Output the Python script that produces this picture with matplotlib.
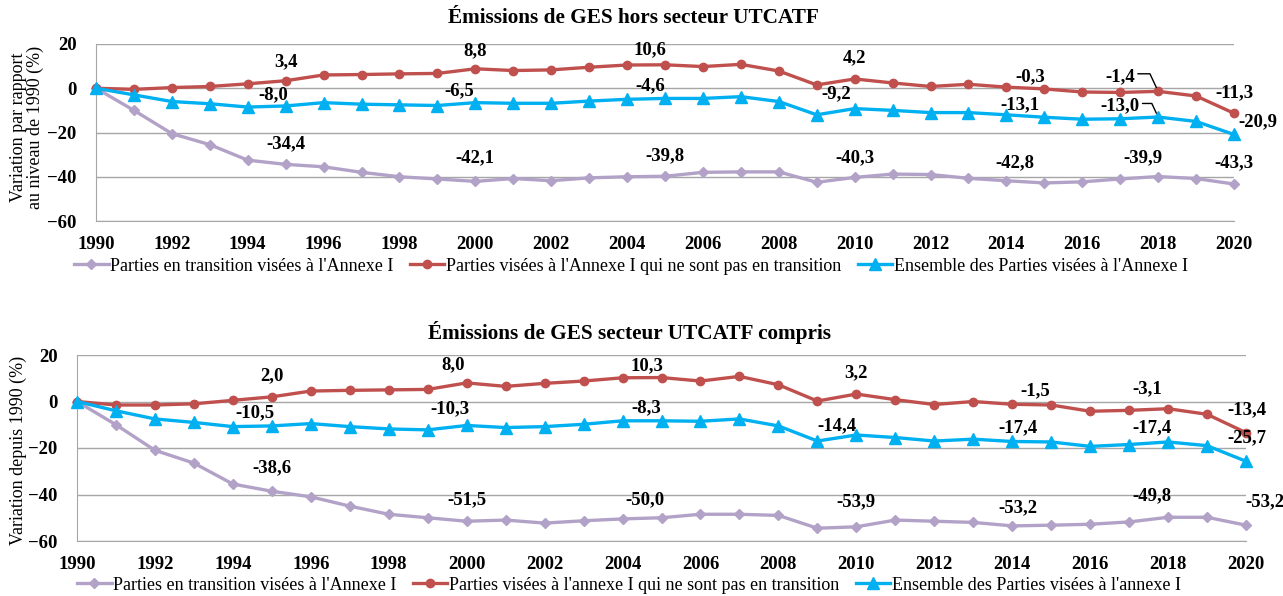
import matplotlib
matplotlib.use("Agg")
import matplotlib.pyplot as plt

# ---------------------------------------------------------------------------
# DATA
# ---------------------------------------------------------------------------
years = list(range(1990, 2021))

# Emissions hors UTCATF
top_transition = [0, -10, -20.5, -25.5, -32.5, -34.4, -35.5, -38, -40, -41,
                  -42.1, -40.8, -41.8, -40.5, -40, -39.8, -38, -37.8, -37.8, -42.5,
                  -40.3, -38.8, -39, -40.7, -41.8, -42.8, -42.3, -41, -39.9, -40.8,
                  -43.3]
top_non_transition = [0, -0.5, 0.3, 0.8, 2, 3.4, 6, 6.2, 6.5, 6.7,
                      8.8, 8, 8.3, 9.5, 10.5, 10.6, 9.8, 10.8, 7.8, 1.5,
                      4.2, 2.4, 0.8, 1.8, 0.5, -0.3, -1.7, -1.9, -1.4, -3.5,
                      -11.3]
top_all = [0, -3, -6, -7, -8.5, -8.0, -6.5, -7.2, -7.5, -7.8,
           -6.5, -6.8, -6.8, -5.8, -5, -4.6, -4.6, -3.8, -6, -12,
           -9.2, -10, -11, -11, -12, -13.1, -14, -13.8, -13.0, -15,
           -20.9]

# Emissions UTCATF compris
bot_transition = [0, -10, -21, -26.5, -35.5, -38.6, -41, -45, -48.5, -50,
                  -51.5, -51, -52.3, -51.3, -50.5, -50.0, -48.5, -48.5, -49, -54.5,
                  -53.9, -51, -51.5, -52, -53.5, -53.2, -52.8, -51.8, -49.8, -49.8,
                  -53.2]
bot_non_transition = [0, -1.5, -1.5, -1, 0.5, 2.0, 4.5, 4.8, 5, 5.2,
                      8.0, 6.5, 7.8, 8.8, 10.2, 10.3, 8.8, 10.8, 7.2, 0.2,
                      3.2, 0.8, -1.3, 0, -1.2, -1.5, -4.2, -3.8, -3.1, -5.5,
                      -13.4]
bot_all = [0, -4, -7.5, -9, -10.8, -10.5, -9.5, -10.8, -11.8, -12.2,
           -10.3, -11.2, -10.8, -9.8, -8.3, -8.3, -8.5, -7.5, -10.5, -17,
           -14.4, -15.5, -17, -16.2, -17.2, -17.4, -19.3, -18.5, -17.4, -19,
           -25.7]

label_years = [1995, 2000, 2005, 2010, 2015, 2018, 2020]
leader_years = [2018]                        # top chart only
leader_series = ["non_transition", "all"]

top_names = ["Parties en transition visées à l'Annexe I",
             "Parties visées à l'Annexe I qui ne sont pas en transition",
             "Ensemble des Parties visées à l'Annexe I"]
bot_names = ["Parties en transition visées à l'Annexe I",
             "Parties visées à l'annexe I qui ne sont pas en transition",
             "Ensemble des Parties visées à l'annexe I"]

TOP_TITLE = "Émissions de GES hors secteur UTCATF"
BOT_TITLE = "Émissions de GES secteur UTCATF compris"
TOP_YLABEL = "Variation par rapport\nau niveau de 1990 (%)"
BOT_YLABEL = "Variation depuis 1990 (%)"

# label offsets (pixels, dx, dy) for each label year
top_offsets = {
    "transition": [(0, 21), (0, 24), (0, 21), (0, 20), (-29, 20), (-15, 19), (0, 21)],
    "non_transition": [(0, 19), (0, 18), (-15, 15), (0, 21), (-14, 12), (-38, 15), (0, 21)],
    "all": [(-12, 11), (-16, 12), (-15, 13), (-18, 15), (-24, 12), (-38, 11), (24, 13)],
}
bot_offsets = {
    "transition": [(0, 24), (0, 22), (-17, 18), (0, 25), (-33, 17), (-16, 22), (19, 23)],
    "non_transition": [(0, 21), (-14, 18), (-15, 12), (0, 21), (-16, 14), (-21, 20), (1, 23)],
    "all": [(-17, 13), (-17, 17), (-15, 13), (-19, 9), (-33, 14), (-16, 14), (1, 24)],
}

# ---------------------------------------------------------------------------
# STYLE
# ---------------------------------------------------------------------------
C_PURPLE = "#B3A2C7"
C_RED = "#C0504D"
C_BLUE = "#00B0F0"
GRID_COL = "#A6A6A6"
SERIF = "Liberation Serif"

plt.rcParams["font.family"] = [SERIF, "DejaVu Serif"]

W, H = 1283, 596
fig = plt.figure(figsize=(W / 100, H / 100), dpi=100)


def frac_axes(left, top, right, bottom):
    return fig.add_axes([left / W, 1 - bottom / H, (right - left) / W, (bottom - top) / H])


def fmt(v):
    return f"{v:.1f}".replace(".", ",")


def draw_panel(ax, series, offsets, leader=False):
    styles = {
        "transition": dict(color=C_PURPLE, marker="D", ms=5.5),
        "non_transition": dict(color=C_RED, marker="o", ms=6),
        "all": dict(color=C_BLUE, marker="^", ms=8.5),
    }
    lines = []
    for key, vals in series:
        st = styles[key]
        ln, = ax.plot(years, vals, color=st["color"], lw=2.4, marker=st["marker"],
                      ms=st["ms"], mec=st["color"], mfc=st["color"], zorder=3,
                      clip_on=False)
        lines.append(ln)
        for i, yr in enumerate(label_years):
            v = vals[years.index(yr)]
            dx, dy = offsets[key][i]
            kw = {}
            if leader and yr in leader_years and key in leader_series:
                kw["arrowprops"] = dict(arrowstyle="-", color="black", lw=1,
                                        shrinkA=0, shrinkB=3, relpos=(1, 0.65),
                                        connectionstyle="angle,angleA=0,angleB=115,rad=0")
            ax.annotate(fmt(v), xy=(yr, v), xytext=(dx, dy), textcoords="offset pixels",
                        ha="center", va="center", fontsize=13.5, fontweight="bold",
                        family=SERIF, zorder=5, **kw)

    ax.set_xlim(1990, 2020)
    ax.set_ylim(-60, 20)
    ax.set_yticks([-60, -40, -20, 0, 20])
    ax.set_xticks(list(range(1990, 2021, 2)))
    ax.yaxis.grid(True, color=GRID_COL, lw=1)
    ax.set_axisbelow(True)
    for s in ("top", "right"):
        ax.spines[s].set_visible(False)
    for s in ("left", "bottom"):
        ax.spines[s].set_color(GRID_COL)
    ax.tick_params(length=0, labelsize=13.5, pad=11)
    ax.tick_params(axis="y", pad=14)
    for lab in ax.get_xticklabels() + ax.get_yticklabels():
        lab.set_fontweight("bold")
    return lines


# ---------------------------------------------------------------------------
# TOP PANEL
# ---------------------------------------------------------------------------
ax1 = frac_axes(96, 44, 1234, 221)
top_lines = draw_panel(ax1, [("transition", top_transition),
                             ("non_transition", top_non_transition),
                             ("all", top_all)], top_offsets, leader=True)
fig.text(633 / W, 1 - 18 / H, TOP_TITLE, ha="center", va="center",
         fontsize=15.3, fontweight="bold")
fig.text(27 / W, 1 - 127 / H, TOP_YLABEL, ha="center", va="center",
         rotation=90, fontsize=13, linespacing=1.0)
fig.legend(top_lines, top_names, loc="center", bbox_to_anchor=(631 / W, 1 - 266 / H),
           ncol=3, frameon=False, fontsize=13, handlelength=1.9, handletextpad=0.1,
           columnspacing=0.9, borderaxespad=0)

# ---------------------------------------------------------------------------
# BOTTOM PANEL
# ---------------------------------------------------------------------------
ax2 = frac_axes(77, 355, 1246, 541)
bot_lines = draw_panel(ax2, [("transition", bot_transition),
                             ("non_transition", bot_non_transition),
                             ("all", bot_all)], bot_offsets)
fig.text(630 / W, 1 - 332 / H, BOT_TITLE, ha="center", va="center",
         fontsize=15.3, fontweight="bold")
fig.text(18 / W, 1 - 450 / H, BOT_YLABEL, ha="center", va="center",
         rotation=90, fontsize=13)
fig.legend(bot_lines, bot_names, loc="center", bbox_to_anchor=(629 / W, 1 - 585 / H),
           ncol=3, frameon=False, fontsize=13, handlelength=1.9, handletextpad=0.1,
           columnspacing=0.9, borderaxespad=0)

fig.savefig("out.png", dpi=100)
